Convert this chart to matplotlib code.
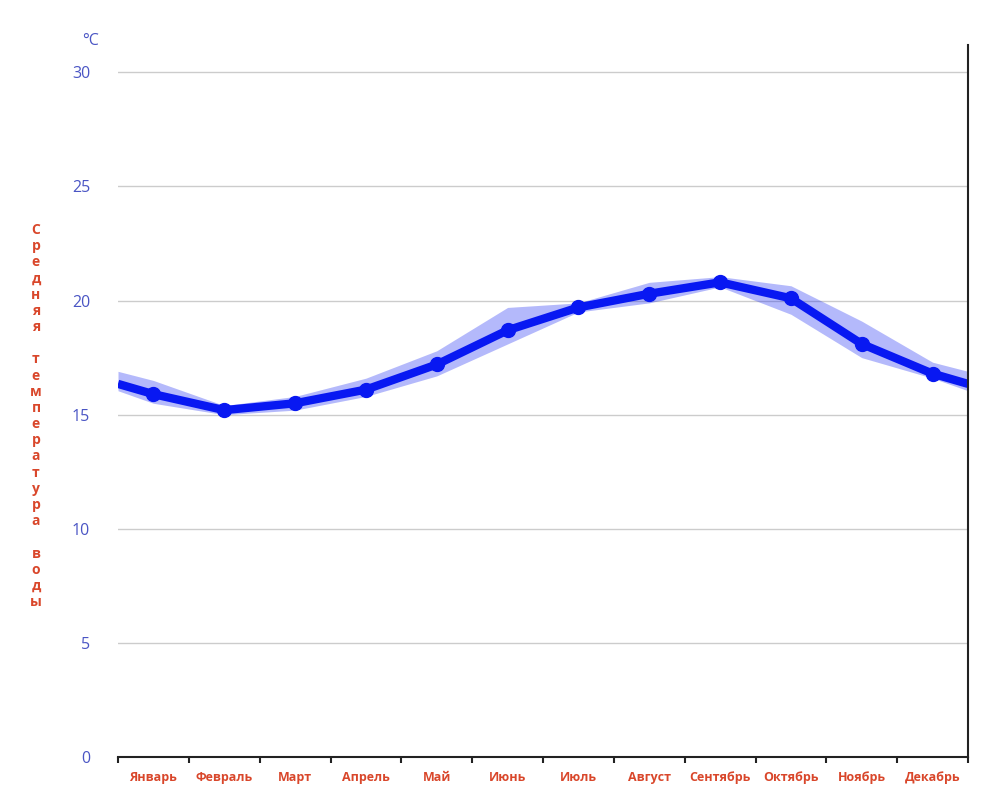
import numpy as np
import matplotlib.pyplot as plt

months = ["Январь", "Февраль", "Март", "Апрель", "Май", "Июнь",
          "Июль", "Август", "Сентябрь", "Октябрь", "Ноябрь", "Декабрь"]
t_mean = [15.9, 15.2, 15.5, 16.1, 17.2, 18.7, 19.7, 20.3, 20.8, 20.1, 18.1, 16.8]
t_min = [15.5, 15.0, 15.2, 15.8, 16.7, 18.1, 19.5, 19.9, 20.6, 19.4, 17.5, 16.6]
t_max = [16.5, 15.4, 15.8, 16.6, 17.8, 19.7, 19.9, 20.8, 21.05, 20.65, 19.1, 17.3]
yticks = [0, 5, 10, 15, 20, 25, 30]
ylabel = "Средняя температура воды"

blue_txt = "#4a55c4"
red_txt = "#d9472b"
line_c = "#0818f2"

def wrap(v):
    # year wraps around: edges take the Dec/Jan average
    edge = (v[0] + v[-1]) / 2
    return np.r_[edge, v, edge]

x = np.r_[0, np.arange(12) + 0.5, 12]

fig = plt.figure(figsize=(10, 7.95), dpi=100)
ax = fig.add_axes([0.118, 1 - 757 / 795, 0.850, 712 / 795])

ax.fill_between(x, wrap(t_min), wrap(t_max), color=line_c, alpha=0.3, lw=0)
ax.plot(x, wrap(t_mean), color=line_c, lw=6, solid_capstyle="butt")
ax.plot(x[1:-1], t_mean, "o", color=line_c, ms=10)

ax.set_xlim(0, 12)
ax.set_ylim(0, 31.2)
ax.set_yticks(yticks)
ax.set_yticklabels([str(v) for v in yticks], color=blue_txt, fontsize=11.5, family="Open Sans")
ax.tick_params(axis="y", length=0, pad=20)
for v in yticks[1:]:
    ax.axhline(v, color="#cccccc", lw=1, zorder=0)

ax.set_xticks(np.arange(13))
ax.set_xticklabels([])
ax.set_xticks(np.arange(12) + 0.5, minor=True)
ax.set_xticklabels(months, minor=True, color=red_txt, fontsize=9, fontweight="bold", family="Open Sans")
ax.tick_params(axis="x", which="major", length=4, width=1.5, color="#222222")
ax.tick_params(axis="x", which="minor", length=0, pad=10)

for s in ["left", "top"]:
    ax.spines[s].set_visible(False)
for s in ["bottom", "right"]:
    ax.spines[s].set_linewidth(1.5)
    ax.spines[s].set_color("#222222")

fig.text(99 / 1000, 1 - 41 / 795, "°C", color=blue_txt, fontsize=11.5, family="Open Sans",
         ha="right", va="center")
fig.text(36 / 1000, 1 - 416 / 795, "\n".join(ylabel), color=red_txt, fontsize=10,
         fontweight="bold", family="Open Sans", ha="center", va="center", linespacing=1.2)

fig.savefig("out.png", dpi=100)
